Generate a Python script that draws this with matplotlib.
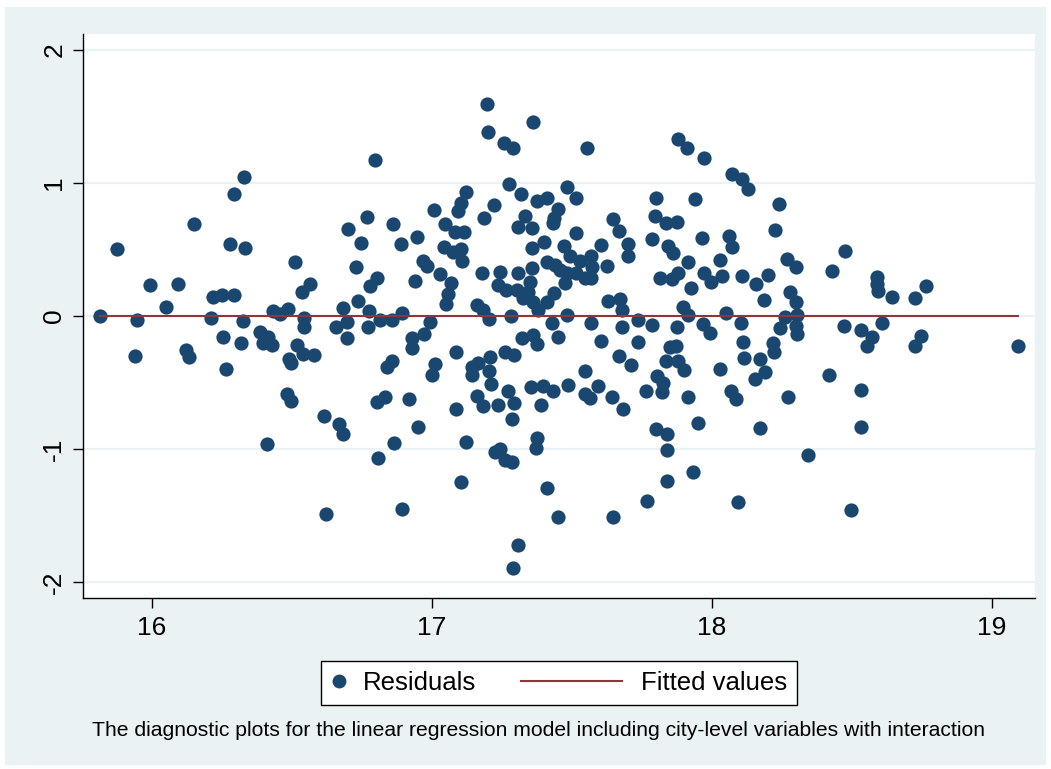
import numpy as np
import matplotlib
matplotlib.use("Agg")
import matplotlib.pyplot as plt
from matplotlib.patches import Rectangle
from matplotlib.lines import Line2D
from matplotlib.legend_handler import HandlerLine2D

plt.rcParams['font.family'] = ['Liberation Sans', 'DejaVu Sans']

# Residuals (fitted value, residual)
resid_x = [
    15.814, 15.875, 15.946, 15.939, 15.993, 16.05, 16.093, 16.121, 16.132, 16.15,
    16.211, 16.218, 16.25, 16.254, 16.264, 16.279, 16.293, 16.293, 16.329, 16.332,
    16.325, 16.318, 16.386, 16.396, 16.414, 16.429, 16.432, 16.457, 16.486, 16.511,
    16.536, 16.564, 16.543, 16.543, 16.518, 16.539, 16.579, 16.489, 16.496, 16.482,
    16.496, 16.411,
    17.196, 17.2, 17.257, 17.289, 16.796, 17.275, 17.121, 17.104, 17.093, 17.221,
    17.007, 17.186, 16.768, 16.861, 16.7, 17.046, 17.082, 17.114, 17.307, 16.746,
    16.889, 16.946, 17.043, 17.075, 17.104, 17.107, 16.968, 16.982, 16.729, 17.179,
    17.243, 17.307, 17.029, 17.068, 17.236, 17.264, 17.304, 16.804, 16.779, 16.939,
    17.057, 17.05, 16.736, 16.682, 16.775, 17.161, 17.182, 17.282, 16.893, 17.204,
    16.993, 16.857, 16.814, 16.696, 16.657, 16.771, 16.696, 16.971, 16.929, 16.929,
    16.857, 16.839, 17.011, 17.0, 17.086, 17.143, 17.164, 17.143, 17.207, 17.261,
    17.293, 17.204, 17.211, 17.271, 17.161, 17.182, 17.236, 17.293, 17.286, 16.832,
    16.804, 16.918, 17.086, 16.614, 16.668, 16.682, 16.95, 16.864, 16.807, 17.121,
    17.225, 17.243, 17.261, 17.286, 17.104, 16.621, 16.893, 17.307, 17.289,
    17.361, 17.554, 17.879, 17.911, 17.971, 17.318, 17.482, 17.514, 17.375, 17.411,
    17.45, 17.436, 17.432, 17.332, 17.357, 17.514, 17.646, 17.668, 17.8, 17.939,
    17.796, 17.836, 17.875, 17.786, 17.964, 17.4, 17.357, 17.471, 17.493, 17.568,
    17.604, 17.7, 17.7, 17.843, 17.861, 17.914, 17.411, 17.439, 17.529, 17.571,
    17.625, 17.357, 17.457, 17.482, 17.514, 17.546, 17.568, 17.475, 17.35, 17.343,
    17.325, 17.361, 17.379, 17.411, 17.436, 17.814, 17.857, 17.879, 17.925, 17.971,
    17.629, 17.671, 17.679, 17.896, 17.914, 17.968, 17.482, 17.429, 17.568, 17.736,
    17.786, 17.679, 17.875, 17.45, 17.321, 17.361, 17.375, 17.604, 17.736, 17.85,
    17.871, 17.668, 17.711, 17.836, 17.879, 17.9, 17.546, 17.804, 17.825, 17.821,
    17.764, 17.354, 17.396, 17.432, 17.486, 17.546, 17.564, 17.593, 17.643, 17.682,
    17.914, 17.389, 17.95, 17.8, 17.839, 17.839, 17.375, 17.371, 17.932, 17.839,
    17.411, 17.768, 17.45, 17.646,
    18.071, 18.107, 18.129, 18.239, 18.225, 18.061, 18.071, 18.029, 18.268, 18.3,
    18.475, 18.429, 17.996, 18.036, 18.107, 18.157, 18.2, 18.279, 18.3, 18.186,
    18.589, 18.589, 18.593, 18.643, 18.05, 18.261, 18.304, 18.104, 18.243, 18.3,
    18.304, 18.471, 18.532, 18.607, 17.993, 18.111, 18.114, 18.171, 18.218, 18.221,
    18.029, 18.189, 18.154, 18.068, 18.086, 18.271, 18.418, 18.571, 18.554, 18.532,
    18.171, 18.532, 18.343, 18.093, 18.496,
    18.725, 18.764, 18.746, 18.725, 19.093,
]
resid_y = [
    0.0, 0.504, -0.03, -0.30, 0.233, 0.068, 0.24, -0.256, -0.308, 0.692,
    -0.015, 0.143, 0.158, -0.158, -0.398, 0.541, 0.158, 0.917, 1.045, 0.511,
    -0.038, -0.203, -0.12, -0.203, -0.158, -0.218, 0.038, 0.015, 0.053, 0.406,
    0.18, 0.241, -0.015, -0.083, -0.218, -0.286, -0.293, -0.323, -0.353, -0.586,
    -0.639, -0.962,
    1.594, 1.383, 1.301, 1.263, 1.173, 0.992, 0.932, 0.85, 0.789, 0.835,
    0.797, 0.737, 0.744, 0.692, 0.654, 0.692, 0.632, 0.632, 0.669, 0.549,
    0.541, 0.594, 0.519, 0.481, 0.504, 0.414, 0.414, 0.376, 0.368, 0.323,
    0.331, 0.323, 0.316, 0.248, 0.233, 0.195, 0.195, 0.286, 0.226, 0.263,
    0.165, 0.09, 0.113, 0.06, 0.038, 0.083, 0.045, 0.0, 0.023, -0.023,
    -0.045, -0.03, -0.03, -0.045, -0.083, -0.083, -0.165, -0.135, -0.165, -0.241,
    -0.338, -0.383, -0.361, -0.444, -0.271, -0.383, -0.353, -0.444, -0.308, -0.271,
    -0.293, -0.414, -0.511, -0.564, -0.602, -0.677, -0.669, -0.654, -0.774, -0.609,
    -0.647, -0.624, -0.699, -0.752, -0.812, -0.887, -0.835, -0.955, -1.068, -0.947,
    -1.023, -1.0, -1.083, -1.098, -1.248, -1.489, -1.451, -1.722, -1.895,
    1.459, 1.263, 1.331, 1.263, 1.188, 0.917, 0.97, 0.887, 0.865, 0.887,
    0.805, 0.737, 0.699, 0.752, 0.662, 0.624, 0.729, 0.639, 0.887, 0.88,
    0.752, 0.699, 0.707, 0.579, 0.586, 0.556, 0.511, 0.526, 0.451, 0.451,
    0.534, 0.541, 0.451, 0.526, 0.474, 0.406, 0.406, 0.383, 0.414, 0.368,
    0.376, 0.361, 0.346, 0.323, 0.323, 0.286, 0.286, 0.248, 0.256, 0.18,
    0.135, 0.105, 0.045, 0.105, 0.173, 0.286, 0.278, 0.323, 0.211, 0.323,
    0.113, 0.128, 0.045, 0.068, 0.008, -0.06, 0.008, -0.053, -0.053, -0.03,
    -0.068, -0.083, -0.083, -0.158, -0.165, -0.143, -0.211, -0.188, -0.195, -0.233,
    -0.226, -0.301, -0.368, -0.338, -0.338, -0.406, -0.414, -0.451, -0.504, -0.571,
    -0.564, -0.534, -0.526, -0.564, -0.519, -0.586, -0.617, -0.526, -0.609, -0.699,
    -0.609, -0.669, -0.805, -0.85, -0.887, -1.008, -0.917, -0.992, -1.173, -1.241,
    -1.293, -1.391, -1.511, -1.511,
    1.068, 1.03, 0.955, 0.842, 0.647, 0.602, 0.519, 0.421, 0.429, 0.368,
    0.489, 0.338, 0.256, 0.301, 0.301, 0.241, 0.308, 0.18, 0.105, 0.12,
    0.293, 0.241, 0.188, 0.143, 0.023, -0.008, 0.008, -0.053, -0.09, -0.075,
    -0.135, -0.075, -0.105, -0.053, -0.128, -0.195, -0.316, -0.323, -0.203, -0.271,
    -0.398, -0.421, -0.474, -0.564, -0.624, -0.609, -0.444, -0.158, -0.226, -0.556,
    -0.842, -0.835, -1.045, -1.398, -1.459,
    0.135, 0.226, -0.15, -0.226, -0.226,
]
# fitted line of residuals on fitted values is flat at zero
fitted_y = [0.0, 0.0]

x_ticks = [16, 17, 18, 19]
y_ticks = [-2, -1, 0, 1, 2]
caption = ("The diagnostic plots for the linear regression model including "
           "city-level variables with interaction")

navy = '#1A476F'
maroon = '#90353B'
bluish = '#EAF2F3'

W, H = 1051, 769
fig = plt.figure(figsize=(W / 100, H / 100), dpi=100)
fig.patch.set_facecolor('white')
fig.patches.append(Rectangle((5 / W, 4 / H), 1041 / W, 758 / H, transform=fig.transFigure,
                             facecolor=bluish, edgecolor='none', zorder=-10))

ax = fig.add_axes([83 / W, 1 - 598 / H, (1035 - 83) / W, (598 - 34) / H])
ax.set_facecolor('white')

fit_x = [min(resid_x), max(resid_x)]
ax.scatter(resid_x, resid_y, s=105, color=navy, linewidths=0, zorder=3)
ax.plot(fit_x, fitted_y, color=maroon, lw=1.5, zorder=4)

ax.set_xlim(15.754, 19.154)
ax.set_ylim(-2.12, 2.12)
ax.set_xticks(x_ticks)
ax.set_yticks(y_ticks)
ax.set_yticklabels([str(v) for v in y_ticks], rotation=90, va='center')
ax.grid(axis='y', color=bluish, lw=1.6, zorder=0)
ax.set_axisbelow(True)

for s in ['top', 'right']:
    ax.spines[s].set_visible(False)
for s in ['left', 'bottom']:
    ax.spines[s].set_linewidth(1.0)
ax.tick_params(axis='both', labelsize=19, length=7, width=1.0, color='black')
ax.tick_params(axis='x', pad=6)
ax.tick_params(axis='y', pad=5)


class LongLineHandler(HandlerLine2D):
    # stretch the legend line to the left into the column gap, like Stata does
    def create_artists(self, legend, orig_handle, xdescent, ydescent,
                       width, height, fontsize, trans):
        y = (height - ydescent) / 2
        line = Line2D([-xdescent - 3.44 * fontsize, -xdescent + 0.48 * fontsize], [y, y])
        self.update_prop(line, orig_handle, legend)
        line.set_transform(trans)
        return [line]


h_res = Line2D([], [], marker='o', ls='none', color=navy, markersize=10, markeredgewidth=0)
h_fit = Line2D([], [], color=maroon, lw=1.5)
leg = fig.legend([h_res, h_fit], ['Residuals', 'Fitted values'],
                 loc='center', bbox_to_anchor=(559 / W, 1 - 683 / H),
                 ncol=2, fontsize=18.5, frameon=True, fancybox=False,
                 edgecolor='black', framealpha=1, borderpad=0.4,
                 handlelength=0.6, handletextpad=0.62, columnspacing=5.2,
                 numpoints=1, handler_map={h_fit: LongLineHandler()})
leg.get_frame().set_linewidth(1.0)

fig.text(538 / W, 1 - 731 / H, caption, ha='center', va='center', fontsize=15.2)

fig.savefig('out.png', dpi=100, facecolor=fig.get_facecolor())
